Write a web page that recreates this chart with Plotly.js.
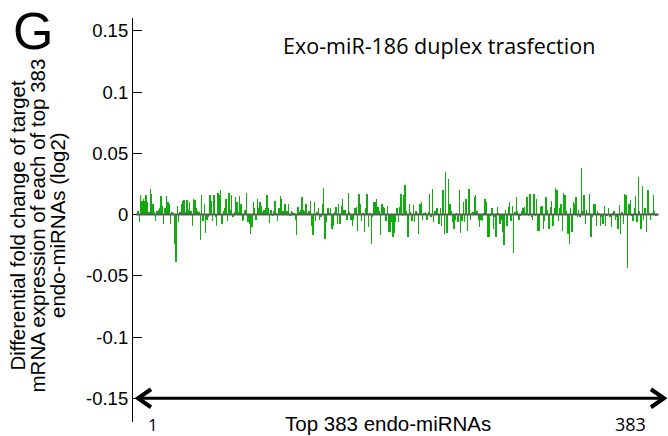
<!DOCTYPE html>
<html>
<head>
<meta charset="utf-8">
<script src="https://cdn.plot.ly/plotly-3.0.1.min.js"></script>
<style>html,body{margin:0;padding:0;background:#fff;}#chart{width:668px;height:436px;}</style>
</head>
<body>
<div id="chart"></div>
<script>
// Differential fold change (log2) for each of the top 383 endo-miRNAs
var seg1 = [0.003,-0.006,0.016,0.011,0.013,0.011,0.016,0.010,0.002,0.021,0.017,0.009,0.002,-0.005,0.003,0.004,0.005,0.015,0.007,-0.008,0.005,0.015,0.010,0.009,-0.008,0.002,0.001,-0.024,-0.039,0.007,-0.006,0.002,0.009,0.011,0.012,0.002,0.012];
var seg2 = [0.004,0.010,0.003,-0.009,0.013,0.012,0.005,0.003,0.002,-0.021,0.016,-0.005,0.009,-0.015,-0.004,-0.002,0.016,0.011,-0.005,0.016,-0.002,-0.009,0.018,0.016,0.020,-0.008,0.003,0.005,0.013,-0.005,0.018,0.004,0.016,-0.002,0.002,0.014,0.010];
var seg3 = [0.002,0.015,0.009,-0.005,-0.004,0.004,0.018,-0.006,-0.008,-0.016,-0.010,0.010,0.005,-0.004,0.013,0.005,0.010,0.007,0.002,0.004,0.005,0.016,0.005,-0.007,0.004,-0.001,0.003,0.011,0.001,-0.005,0.005,0.015,0.013,0.003,0.009,0.009,0.003];
var seg4 = [0.009,-0.001,0.003,0.002,0.001,-0.004,-0.017,0.006,0.002,0.004,0.014,0.004,0.003,0.009,0.001,0.003,0.011,-0.009,-0.017,0.010,-0.005,0.002,0.005,-0.004,-0.002,0.009,0.022,-0.020,-0.006,0.005,0.001,0.005,-0.012,-0.009,0.002,0.006,-0.008,0.009];
var seg5 = [-0.008,0.007,0.013,0.004,0.004,-0.004,0.018,0.002,-0.004,-0.009,-0.004,0.005,0.006,-0.013,0.017,0.009,-0.005,0.001,-0.014,0.005,0.017,-0.010,0.001,-0.024,-0.002,0.010,0.010,0.013,0.006,0.003,-0.017,0.009,0.006,0.005,-0.005,0.007,-0.014];
var seg6 = [-0.014,-0.006,-0.018,-0.015,-0.006,0.005,-0.006,0.006,0.017,-0.001,0.016,0.024,0.003,-0.018,0.009,0.002,-0.005,0.008,-0.006,0.003,0.001,-0.016,0.009,0.010,-0.004,0.001,0.002,-0.004,0.002,0.017,-0.002,0.021,-0.006,0.003,0.005,0.005,-0.008];
var seg7 = [0.005,-0.009,0.020,-0.016,0.035,-0.015,0.029,0.009,0.003,-0.006,-0.012,-0.004,0.001,-0.006,0.020,-0.015,-0.005,0.010,-0.006,0.013,-0.013,0.021,-0.004,0.001,0.002,0.014,0.016,0.003,-0.004,-0.010,-0.004,-0.005,0.001,0.013,0.010,-0.018];
var seg8 = [-0.018,-0.001,0.005,-0.012,-0.002,-0.018,0.006,0.001,-0.008,-0.004,-0.014,-0.025,0.004,-0.009,0.006,0.010,-0.005,0.007,-0.031,0.002,0.014,0.003,-0.004,-0.001,0.003,0.005,0.006,0.001,0.014,-0.001,0.017,-0.002,-0.004,0.017,-0.001,0.013,-0.013];
var seg9 = [-0.013,0.006,0.007,-0.012,-0.005,0.014,0.004,-0.012,0.006,0.011,-0.009,0.005,0.022,0.020,-0.005,0.005,0.009,-0.013,0.018,0.016,0.003,-0.016,-0.024,0.005,-0.014,0.010,0.009,0.014,-0.002,0.004,-0.002,0.038,0.003,0.016];
var seg10 = [-0.008,0.004,0.001,0.017,-0.018,-0.002,0.009,0.009,-0.009,0.003,0.001,-0.009,-0.002,-0.008,0.007,-0.009,-0.001,0.005,-0.002,-0.010,0.001,0.003,-0.004,-0.002,-0.012,0.008,-0.016,0.002,-0.008,0.017,0.016,-0.044,0.009,0.012,-0.001,-0.005,0.005,0.015,-0.006,0.031,0.003,-0.012,0.023,-0.004,0.005,-0.014,0.020,0.001,-0.004,0.001,0.016,0.003,-0.001];

var values = [].concat(seg1,seg2,seg3,seg4,seg5,seg6,seg7,seg8,seg9,seg10);
var ranks = values.map(function(v,i){return i+1;});

var yTickVals = [0.15,0.1,0.05,0,-0.05,-0.1,-0.15];
var yTickText = ["0.15","0.1","0.05","0","-0.05","-0.1","-0.15"];
var xEndLabels = ["1","383"];

var titleText = "Exo-miR-186 duplex trasfection";
var panelLetter = "G";
var yTitleLines = ["Differential fold change of target","mRNA expression of each of top 383","endo-miRNAs (log2)"];
var xTitle = "Top 383 endo-miRNAs";

var ARIAL = "Liberation Sans, Arial, sans-serif";
var OPEN = "Open Sans, sans-serif";

var trace = {
  type: "bar",
  x: ranks,
  y: values,
  width: 1.0,
  marker: {color: "#12ad12", line: {width: 0.02, color: "#12ad12"}},
  hoverinfo: "x+y"
};

function ann(text, x, y, font, extra) {
  var a = {text:text, xref:"paper", yref:"paper", x:x, y:y, xanchor:"center", yanchor:"middle", showarrow:false, font:font};
  if (extra) { for (var k in extra) a[k] = extra[k]; }
  return a;
}

var annotations = [
  ann(panelLetter, -0.1876, 0.968, {family:ARIAL, size:52, color:"#000"}),
  ann(titleText, 0.575, 0.933, {family:OPEN, size:21.5, color:"#000"}),
  ann(yTitleLines[0], -0.2167, 0.4876, {family:ARIAL, size:20.5, color:"#000"}, {textangle:-90}),
  ann(yTitleLines[1], -0.1792, 0.4876, {family:ARIAL, size:20.5, color:"#000"}, {textangle:-90}),
  ann(yTitleLines[2], -0.1426, 0.4876, {family:ARIAL, size:20.5, color:"#000"}, {textangle:-90}),
  ann(xTitle, 0.4775, -0.0025, {family:ARIAL, size:20.5, color:"#000"}),
  ann(xEndLabels[0], 0.0375, -0.005, {family:OPEN, size:17, color:"#000"}),
  ann(xEndLabels[1], 0.9325, -0.005, {family:OPEN, size:18, color:"#000"})
];

var shapes = [
  // zero baseline
  {type:"line", xref:"x", yref:"y", x0:-0.5, x1:385, y0:0, y1:0, line:{color:"#5a5a5a", width:2}, layer:"above"},
  // double-headed arrow along the bottom
  {type:"line", xref:"paper", yref:"y", x0:0.009, x1:0.996, y0:-0.15, y1:-0.15, line:{color:"#000", width:3}},
  {type:"path", xref:"paper", yref:"y", xsizemode:"pixel", ysizemode:"pixel", xanchor:0.0075, yanchor:-0.15, path:"M 14 9 L 1 0 L 14 -9", line:{color:"#000", width:4}},
  {type:"path", xref:"paper", yref:"y", xsizemode:"pixel", ysizemode:"pixel", xanchor:0.998, yanchor:-0.15, path:"M -14 9 L -1 0 L -14 -9", line:{color:"#000", width:4}}
];

var layout = {
  width: 668, height: 436,
  margin: {l:133, r:2, t:18, b:14, pad:0},
  paper_bgcolor: "#fff", plot_bgcolor: "#fff",
  showlegend: false,
  bargap: 0,
  xaxis: {range:[-2.7, 390.4], visible:false, fixedrange:true},
  yaxis: {
    range:[-0.1694, 0.1606],
    tickvals: yTickVals, ticktext: yTickText,
    ticks:"inside", ticklen:9, tickwidth:1, tickcolor:"#000",
    showline:true, linecolor:"#000", linewidth:1.2,
    showgrid:false, zeroline:false,
    tickfont:{family:ARIAL, size:18.5, color:"#000"},
    fixedrange:true
  },
  annotations: annotations,
  shapes: shapes
};

Plotly.newPlot("chart", [trace], layout, {displayModeBar:false});
</script>
</body>
</html>
